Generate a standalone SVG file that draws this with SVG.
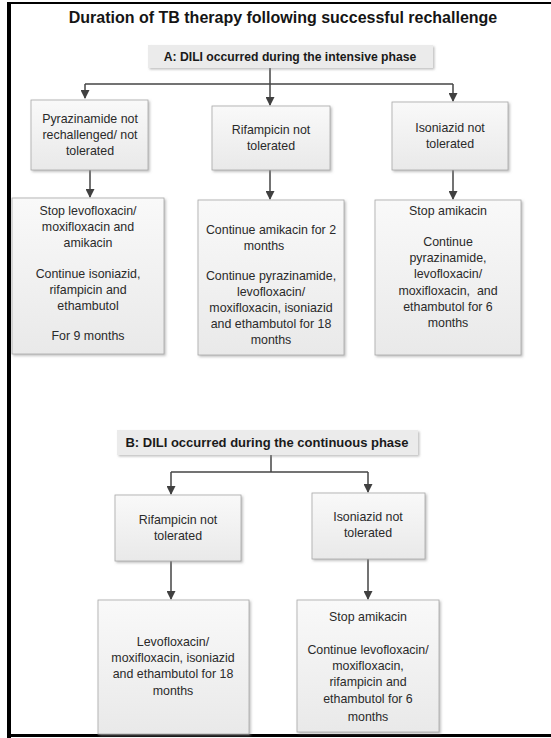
<svg xmlns="http://www.w3.org/2000/svg" width="551" height="738" viewBox="0 0 551 738">
  <style>
    .title { font-family: "Liberation Sans", Arial, sans-serif; font-weight: bold; font-size: 16px; fill: #151515; text-anchor: middle; }
    .head { font-family: "Liberation Sans", Arial, sans-serif; font-weight: bold; font-size: 12.2px; fill: #1a1a1a; text-anchor: middle; }
    .txt { font-family: "Liberation Sans", Arial, sans-serif; font-size: 12.4px; fill: #2a2a2a; text-anchor: middle; }
    .box { fill: url(#boxFill); stroke: #a8a8a8; stroke-width: 0.8; filter: url(#shadow); }
    .hbox { fill: #ebebeb; filter: url(#shadow); }
    .conn { fill: none; stroke: #454545; stroke-width: 1.5; }
    .arr { marker-end: url(#arrow); }
    .frame { stroke: #000; fill: none; }
  </style>
  <defs>
    <linearGradient id="boxFill" x1="0" y1="0" x2="0" y2="1">
      <stop offset="0" stop-color="#f9f9f9"/>
      <stop offset="1" stop-color="#e9e9e9"/>
    </linearGradient>
    <filter id="shadow" x="-10%" y="-10%" width="125%" height="125%">
      <feDropShadow dx="1.5" dy="1.5" stdDeviation="1.2" flood-color="#8a8a8a" flood-opacity="0.55"/>
    </filter>
    <marker id="arrow" markerWidth="9" markerHeight="9" refX="8" refY="4.5" orient="auto" markerUnits="userSpaceOnUse">
      <path d="M0,0 L9,4.5 L0,9 Z" fill="#404040"/>
    </marker>
  </defs>

  <rect width="551" height="738" fill="#ffffff"/>

  <!-- outer frame -->
  <g id="frame">
    <line class="frame" x1="9" y1="2" x2="9" y2="738" stroke-width="4"/>
    <line class="frame" x1="7" y1="3" x2="551" y2="3" stroke-width="2"/>
    <line class="frame" x1="7" y1="735.5" x2="551" y2="735.5" stroke-width="3"/>
  </g>

  <text class="title" x="283" y="23">Duration of TB therapy following successful rechallenge</text>

  <!-- connectors -->
  <g id="connectors">
    <path class="conn" d="M270,68 V84 M85,84 H453"/>
    <path class="conn arr" d="M85,84 V98"/>
    <path class="conn arr" d="M270,84 V105"/>
    <path class="conn arr" d="M453,84 V101"/>
    <path class="conn arr" d="M90,170 V197"/>
    <path class="conn arr" d="M270,170 V199"/>
    <path class="conn arr" d="M453,170 V199"/>
    <path class="conn" d="M271,455 V472 M171,472 H368"/>
    <path class="conn arr" d="M171,472 V494"/>
    <path class="conn arr" d="M368,472 V492"/>
    <path class="conn arr" d="M171,561 V599"/>
    <path class="conn arr" d="M368,559 V599"/>
  </g>

  <!-- section A -->
  <g id="headA">
    <rect class="hbox" x="148" y="45" width="285" height="23"/>
    <text class="head" x="290" y="61">A: DILI occurred during the intensive phase</text>
  </g>

  <g id="pza">
    <rect class="box" x="31" y="100" width="117" height="70"/>
    <text class="txt" x="90" y="123">Pyrazinamide not</text>
    <text class="txt" x="90" y="139">rechallenged/ not</text>
    <text class="txt" x="90" y="155">tolerated</text>
  </g>

  <g id="rifA">
    <rect class="box" x="212" y="106" width="118" height="64"/>
    <text class="txt" x="271" y="134">Rifampicin not</text>
    <text class="txt" x="271" y="150">tolerated</text>
  </g>

  <g id="inhA">
    <rect class="box" x="392" y="102" width="116" height="68"/>
    <text class="txt" x="450" y="132">Isoniazid not</text>
    <text class="txt" x="450" y="148">tolerated</text>
  </g>

  <g id="pzaPlan">
    <rect class="box" x="12" y="198" width="152" height="156"/>
    <text class="txt" x="88" y="215">Stop levofloxacin/</text>
    <text class="txt" x="88" y="231">moxifloxacin and</text>
    <text class="txt" x="88" y="247">amikacin</text>
    <text class="txt" x="88" y="278">Continue isoniazid,</text>
    <text class="txt" x="88" y="294">rifampicin and</text>
    <text class="txt" x="88" y="310">ethambutol</text>
    <text class="txt" x="88" y="340">For 9 months</text>
  </g>

  <g id="rifAPlan">
    <rect class="box" x="198" y="200" width="146" height="155"/>
    <text class="txt" x="271" y="234">Continue amikacin for 2</text>
    <text class="txt" x="264" y="250">months</text>
    <text class="txt" x="271" y="280">Continue pyrazinamide,</text>
    <text class="txt" x="271" y="296">levofloxacin/</text>
    <text class="txt" x="271" y="312">moxifloxacin, isoniazid</text>
    <text class="txt" x="271" y="328">and ethambutol for 18</text>
    <text class="txt" x="271" y="344">months</text>
  </g>

  <g id="inhAPlan">
    <rect class="box" x="375" y="200" width="146" height="155"/>
    <text class="txt" x="448" y="215">Stop amikacin</text>
    <text class="txt" x="448" y="246">Continue</text>
    <text class="txt" x="448" y="262">pyrazinamide,</text>
    <text class="txt" x="448" y="278">levofloxacin/</text>
    <text class="txt" x="448" y="295" xml:space="preserve">moxifloxacin,  and</text>
    <text class="txt" x="448" y="311">ethambutol for 6</text>
    <text class="txt" x="448" y="327">months</text>
  </g>

  <!-- section B -->
  <g id="headB">
    <rect class="hbox" x="117" y="430" width="301" height="25"/>
    <text class="head" x="267" y="447" style="font-size:13px">B: DILI occurred during the continuous phase</text>
  </g>

  <g id="rifB">
    <rect class="box" x="115" y="495" width="126" height="66"/>
    <text class="txt" x="178" y="524">Rifampicin not</text>
    <text class="txt" x="178" y="540">tolerated</text>
  </g>

  <g id="inhB">
    <rect class="box" x="312" y="493" width="113" height="66"/>
    <text class="txt" x="368" y="521">Isoniazid not</text>
    <text class="txt" x="368" y="537">tolerated</text>
  </g>

  <g id="rifBPlan">
    <rect class="box" x="98" y="600" width="151" height="134"/>
    <text class="txt" x="173" y="646">Levofloxacin/</text>
    <text class="txt" x="173" y="662">moxifloxacin, isoniazid</text>
    <text class="txt" x="173" y="678">and ethambutol for 18</text>
    <text class="txt" x="173" y="695">months</text>
  </g>

  <g id="inhBPlan">
    <rect class="box" x="297" y="600" width="142" height="132"/>
    <text class="txt" x="368" y="621">Stop amikacin</text>
    <text class="txt" x="368" y="654">Continue levofloxacin/</text>
    <text class="txt" x="368" y="670">moxifloxacin,</text>
    <text class="txt" x="368" y="686">rifampicin and</text>
    <text class="txt" x="368" y="703">ethambutol for 6</text>
    <text class="txt" x="368" y="721">months</text>
  </g>
</svg>
